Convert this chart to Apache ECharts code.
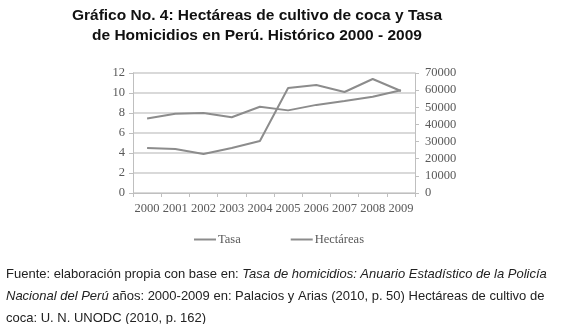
<!DOCTYPE html>
<html>
<head>
<meta charset="utf-8">
<script src="https://cdn.jsdelivr.net/npm/echarts@6/dist/echarts.min.js"></script>
<style>
  html, body { margin: 0; padding: 0; background: #fff; }
  #chart { width: 580px; height: 324px; }
</style>
</head>
<body>
<div id="chart"></div>
<script>
// años, tasa de homicidios y hectáreas de coca
var years = ['2000', '2001', '2002', '2003', '2004', '2005', '2006', '2007', '2008', '2009'];
var tasa = [4.5, 4.4, 3.9, 4.5, 5.2, 10.5, 10.8, 10.1, 11.4, 10.2];
var hectareas = [43400, 46200, 46700, 44200, 50300, 48200, 51400, 53700, 56100, 59900];

var chart = echarts.init(document.getElementById('chart'));
var axisFont = { fontFamily: 'Liberation Serif', fontSize: 12.5, color: '#595959' };

chart.setOption({
  animation: false,
  grid: { left: 133, right: 165, top: 73, bottom: 131 },
  graphic: [
    {
      type: 'text', x: 257, y: 6,
      style: {
        text: 'Gráfico No. 4: Hectáreas de cultivo de coca y Tasa\nde Homicidios en Perú. Histórico 2000 - 2009',
        font: 'bold 15.5px "Liberation Sans"', fill: '#111', textAlign: 'center', textVerticalAlign: 'top', lineHeight: 20
      }
    },
    {
      type: 'text', left: 6, top: 263,
      style: {
        text: 'Fuente: elaboración propia con base en: {i|Tasa de homicidios: Anuario Estadístico de la Policía}\n' +
              '{i|Nacional del Perú} años: 2000-2009 en: Palacios y Arias (2010, p. 50) Hectáreas de cultivo de\n' +
              'coca: U. N. UNODC (2010, p. 162)',
        font: '13px "Liberation Sans"', fill: '#222', lineHeight: 22,
        rich: { i: { fontStyle: 'italic', font: 'italic 13px "Liberation Sans"', fill: '#222', lineHeight: 22 } }
      }
    }
  ],
  legend: {
    left: 189, top: 228, itemGap: 50, itemWidth: 22, itemHeight: 2,
    icon: 'rect',
    textStyle: { fontFamily: 'Liberation Serif', fontSize: 12.5, color: '#595959', padding: [0, 0, 0, -3] },
    data: ['Tasa', 'Hectáreas']
  },
  xAxis: {
    type: 'category', data: years, boundaryGap: true,
    axisLine: { lineStyle: { color: '#bfbfbf' } },
    axisTick: { show: true, length: 4, lineStyle: { color: '#bfbfbf' } },
    axisLabel: Object.assign({ margin: 9, interval: 0 }, axisFont)
  },
  yAxis: [
    {
      type: 'value', min: 0, max: 12, interval: 2, position: 'left',
      axisLine: { show: true, lineStyle: { color: '#bfbfbf' } },
      axisTick: { show: true, length: 4, lineStyle: { color: '#bfbfbf' } },
      axisLabel: Object.assign({ margin: 8 }, axisFont),
      splitLine: { lineStyle: { color: '#d9d9d9', width: 2 } }
    },
    {
      type: 'value', min: 0, max: 70000, interval: 10000, position: 'right',
      axisLine: { show: true, lineStyle: { color: '#bfbfbf' } },
      axisTick: { show: true, length: 4, lineStyle: { color: '#bfbfbf' } },
      axisLabel: Object.assign({ margin: 10, formatter: function (v) { return String(v); } }, axisFont),
      splitLine: { show: false }
    }
  ],
  series: [
    {
      name: 'Tasa', type: 'line', data: tasa, yAxisIndex: 0,
      symbol: 'none', lineStyle: { color: '#8c8c8c', width: 2 }, itemStyle: { color: '#8c8c8c' }
    },
    {
      name: 'Hectáreas', type: 'line', data: hectareas, yAxisIndex: 1,
      symbol: 'none', lineStyle: { color: '#8c8c8c', width: 2 }, itemStyle: { color: '#8c8c8c' }
    }
  ]
});
</script>
</body>
</html>
